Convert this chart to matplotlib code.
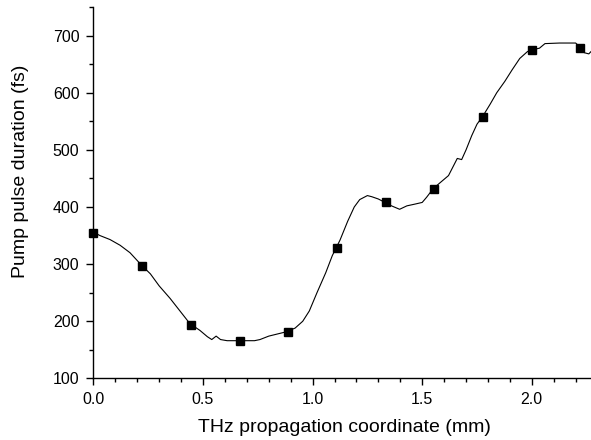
import numpy as np
import matplotlib.pyplot as plt
from matplotlib.ticker import MultipleLocator

plt.rcParams['font.family'] = ['Liberation Sans', 'DejaVu Sans']

# traced curve
curve_x = [0.0, 0.03, 0.076, 0.122, 0.167, 0.22, 0.26, 0.30, 0.35, 0.395,
           0.44, 0.486, 0.52, 0.54, 0.56, 0.58, 0.61, 0.67, 0.735, 0.76,
           0.80, 0.874, 0.92, 0.955, 0.985, 1.02, 1.06, 1.09, 1.125, 1.16,
           1.19, 1.215, 1.25, 1.27, 1.30, 1.33, 1.36, 1.397, 1.43, 1.466,
           1.50, 1.52, 1.55, 1.58, 1.62, 1.64, 1.66, 1.68, 1.70, 1.726,
           1.75, 1.775, 1.81, 1.84, 1.877, 1.91, 1.945, 1.98, 2.0, 2.035,
           2.06, 2.127, 2.20, 2.22, 2.24, 2.26, 2.27]
curve_y = [356, 350, 343, 333, 320, 298, 283, 262, 240, 218,
           196, 184, 173, 168, 174, 168, 166, 166, 166, 168,
           174, 181, 188, 200, 218, 250, 285, 315, 342, 375,
           400, 413, 420, 418, 414, 408, 402, 396, 402, 405,
           408, 417, 432, 442, 455, 470, 485, 483, 500, 525,
           545, 558, 580, 600, 620, 640, 660, 672, 675, 678,
           686, 687, 687, 680, 670, 668, 672]

# square markers
mark_x = [0.0, 0.222, 0.444, 0.667, 0.889, 1.111, 1.333, 1.556, 1.778, 2.0, 2.222]
mark_y = [355, 297, 193, 166, 182, 328, 408, 432, 557, 675, 679]

fig = plt.figure(figsize=(5.91, 4.40), dpi=100)
ax = fig.add_axes([0.158, 0.140, 0.842, 0.844])

ax.plot(curve_x, curve_y, color='black', lw=0.8)
ax.plot(mark_x, mark_y, 's', color='black', ms=6, clip_on=False)

ax.set_xlim(0, 2.27)
ax.set_ylim(100, 750)
ax.xaxis.set_major_locator(MultipleLocator(0.5))
ax.xaxis.set_minor_locator(MultipleLocator(0.1))
ax.yaxis.set_minor_locator(MultipleLocator(50))
ax.set_yticks(range(100, 701, 100))
ax.xaxis.set_major_formatter(plt.FormatStrFormatter('%.1f'))

for s in ['top', 'right']:
    ax.spines[s].set_visible(False)
for s in ['left', 'bottom']:
    ax.spines[s].set_linewidth(1.0)

ax.tick_params(which='major', direction='out', length=5, width=1, labelsize=11.5, pad=5)
ax.tick_params(which='minor', direction='out', length=3, width=1)

ax.set_xlabel('THz propagation coordinate (mm)', fontsize=14, va='center')
ax.set_ylabel('Pump pulse duration (fs)', fontsize=14, va='center')
ax.xaxis.set_label_coords(0.505, -0.131)
ax.yaxis.set_label_coords(-0.147, 0.558)

fig.savefig('out.png', dpi=100)
